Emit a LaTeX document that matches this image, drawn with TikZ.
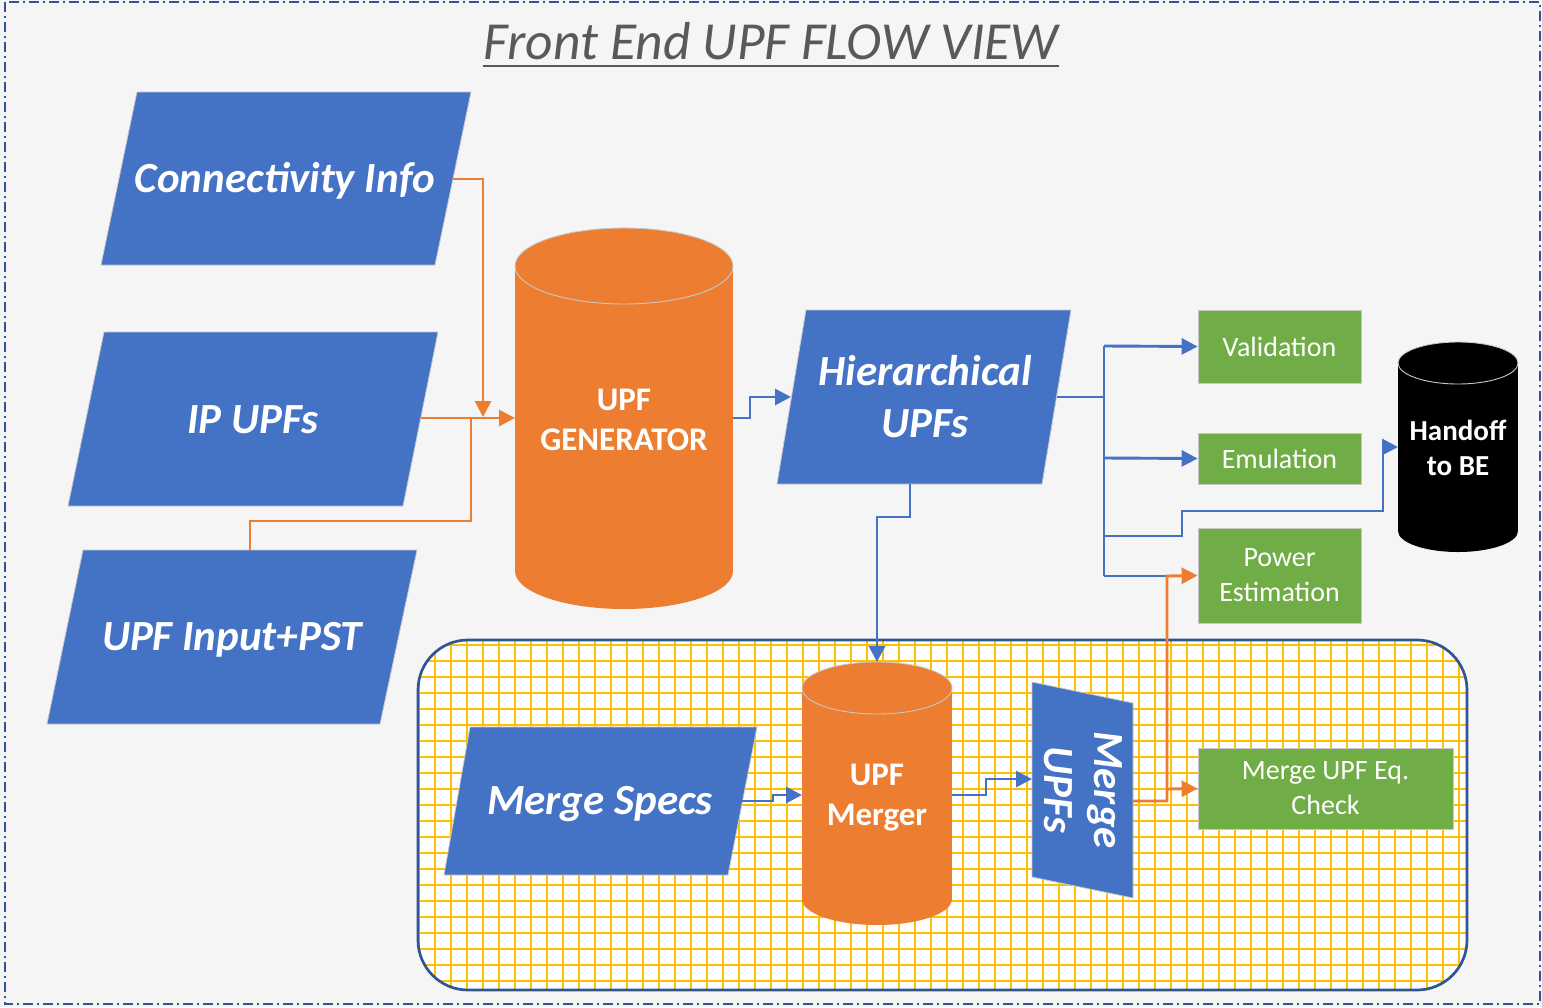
\documentclass[tikz,border=0pt]{standalone}
\usepackage{fontspec}
\setmainfont{Carlito}
\usetikzlibrary{arrows.meta}

\definecolor{pageback}{HTML}{F5F5F5}
\definecolor{frameblue}{HTML}{2F5597}
\definecolor{flowblue}{HTML}{4472C4}
\definecolor{floworange}{HTML}{ED7D31}
\definecolor{flowgreen}{HTML}{70AD47}
\definecolor{gridyellow}{HTML}{FFC000}
\definecolor{titlegrey}{HTML}{595959}
\definecolor{edgegrey}{HTML}{C8C8C8}

% drum: left, right, top-centre y, bottom-centre y, y radius, fill, rim colour
\newcommand\drumshape[7]{%
  \pgfmathsetmacro\drumrx{(#2-#1)/2}%
  \pgfmathsetmacro\drumcx{(#1+#2)/2}%
  \fill[#6] (#1,#3) rectangle (#2,#4);
  \fill[#6] (\drumcx,#4) ellipse[x radius=\drumrx, y radius=#5];
  \fill[#6] (\drumcx,#3) ellipse[x radius=\drumrx, y radius=#5];
  \draw[#7, line width=0.9pt] (\drumcx,#3) ellipse[x radius=\drumrx, y radius=#5];
}

\begin{document}
\begin{tikzpicture}[x=1pt,y=-1pt,
  datashape/.style={fill=flowblue, draw=edgegrey, line width=0.8pt},
  datatext/.style={text=white, font=\fontsize{43}{52}\selectfont\bfseries\itshape,
    align=center, inner sep=0pt},
  taskbox/.style={fill=flowgreen, draw=edgegrey, line width=0.8pt, text=white,
    font=\fontsize{28}{35}\selectfont, align=center, inner sep=0pt},
  drumtext/.style={text=white, font=\fontsize{33}{40}\selectfont\bfseries,
    align=center, inner sep=0pt},
  blueflow/.style={draw=flowblue, line width=2.9pt},
  orangeflow/.style={draw=floworange, line width=2.9pt},
  tip/.style={-{Triangle[length=16pt,width=16pt]}},
]

% page and dash-dot frame
\fill[pageback] (0,0) rectangle (1542,1007);
\useasboundingbox (0,0) rectangle (1542,1007);
\draw[frameblue, line width=2.4pt, dash pattern=on 10pt off 4pt on 2pt off 4pt]
  (5,2) rectangle (1540,1004);

% title
\node[font=\fontsize{53.5}{60}\selectfont\itshape, text=titlegrey, anchor=base,
  inner sep=0pt] (title) at (771,59) {Front End UPF FLOW VIEW};
\draw[titlegrey, line width=2.6pt]
  ([yshift=-7pt]title.base west) -- ([yshift=-7pt]title.base east);

% merge area with yellow grid
\begin{scope}
  \clip[rounded corners=50pt] (418,640) rectangle (1467,990);
  \fill[white] (418,640) rectangle (1467,990);
  \foreach \gx in {419,435,...,1467}
    \draw[gridyellow, line width=2.6pt] (\gx,640) -- (\gx,990);
  \foreach \gy in {645,661,...,990}
    \draw[gridyellow, line width=2.6pt] (418,\gy) -- (1467,\gy);
\end{scope}
\draw[frameblue, line width=2.7pt, rounded corners=50pt] (418,640) rectangle (1467,990);

% input data shapes
\path[datashape] (137,92) -- (471,92) -- (435,265) -- (101,265) -- cycle;
\node[datatext] (conn) at (285,181) {Connectivity Info};
\path[datashape] (104,332) -- (438,332) -- (403,506) -- (68,506) -- cycle;
\node[datatext] (ipupf) at (253,420) {IP UPFs};
\path[datashape] (83,550) -- (417,550) -- (380,724) -- (47,724) -- cycle;
\node[datatext] (pst) at (232,640) {UPF Input+PST};
\path[datashape] (806,310) -- (1071,310) -- (1042,484) -- (777,484) -- cycle;
\node[datatext] (hier) at (925,397) {Hierarchical\\UPFs};
\path[datashape] (470,727) -- (757,727) -- (728,875) -- (444,875) -- cycle;
\node[datatext] (specs) at (600,804) {Merge Specs};
\path[datashape] (1032,682) -- (1133,703) -- (1133,898) -- (1032,877) -- cycle;
\node[datatext, font=\fontsize{43}{50}\selectfont\bfseries\itshape, rotate=-90] (mupf) at (1083,790) {Merge\\UPFs};

% drums
\drumshape{515}{733}{266}{571}{38}{floworange}{edgegrey}
\node[drumtext] (gen) at (624,420) {UPF\\GENERATOR};
\drumshape{802}{952}{688}{899}{26}{floworange}{edgegrey}
\node[drumtext] (merger) at (877,798) {UPF\\Merger};
\drumshape{1398}{1518}{363}{531}{21}{black}{edgegrey}
\node[drumtext, font=\fontsize{29}{35}\selectfont\bfseries] (handoff) at (1458,448) {Handoff\\to BE};

% check boxes
\node[taskbox, minimum width=163pt, minimum height=73pt] (valid) at (1279.5,346.5) {Validation};
\node[taskbox, minimum width=163pt, minimum height=51pt] (emul) at (1279.5,458.5) {Emulation};
\node[taskbox, minimum width=163pt, minimum height=95pt] (power) at (1279.5,575.5) {Power\\Estimation};
\node[taskbox, minimum width=255pt, minimum height=81pt] (eqchk) at (1325.5,788.5) {Merge UPF Eq.\\Check};

% connection points on shape edges
\coordinate (conn-out) at (453,179);
\coordinate (ipupf-out) at (421,418);
\coordinate (pst-top) at (250,550);
\coordinate (gen-in) at (515,418);
\coordinate (gen-out) at (733,418);
\coordinate (hier-in) at (791,397);
\coordinate (hier-out) at (1057,397);
\coordinate (hier-down) at (910,484);
\coordinate (merger-top) at (877,662);
\coordinate (merger-in) at (802,795);
\coordinate (merger-out) at (952,795);
\coordinate (specs-out) at (742,801);
\coordinate (mupf-in) at (1032,779);
\coordinate (mupf-out) at (1133,801);
\coordinate (handoff-in) at (1398,447);
\coordinate (trunk) at (1104,397);

% orange flows
\draw[orangeflow, tip] (conn-out) -- (483,179) -- (483,417);
\draw[orangeflow, tip] (ipupf-out) -- (gen-in);
\draw[orangeflow] (pst-top) -- (250,521) -- (471,521) -- (471,418);

% blue flows
\draw[blueflow, tip] (gen-out) -- (750,418) -- (750,397) -- (hier-in);
\draw[blueflow] (hier-out) -- (trunk);
\draw[blueflow] (1104,346) -- (1104,576);
\draw[blueflow, tip] (1104,346) -- (valid.west);
\draw[blueflow, tip] (1104,458) -- (emul.west);
\draw[blueflow, tip] (1104,536) -- (1182,536) -- (1182,511) -- (1383,511) -- (1383,447) -- (handoff-in);
\draw[blueflow] (1104,576) -- (1167,576);
\draw[blueflow, tip] (hier-down) -- (910,517) -- (877,517) -- (merger-top);
\draw[blueflow, tip] (specs-out) -- (773,801) -- (773,795) -- (merger-in);
\draw[blueflow, tip] (merger-out) -- (986,795) -- (986,779) -- (mupf-in);

% merged result flows
\draw[orangeflow, tip] (mupf-out) -- (1167,801) -- (1167,576) -- (power.west);
\draw[orangeflow, tip] (1167,789) -- (eqchk.west);

\end{tikzpicture}
\end{document}
